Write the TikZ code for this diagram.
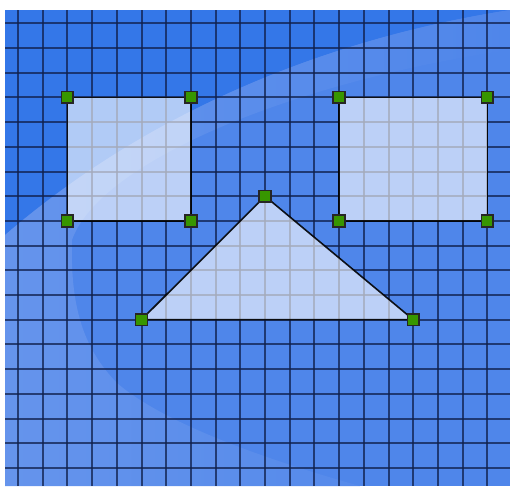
\documentclass[tikz,border=0pt]{standalone}
\definecolor{bgdark}{RGB}{52,119,232}
\definecolor{bgmid}{RGB}{79,134,234}
\definecolor{bglight}{RGB}{101,148,236}
\definecolor{gridc}{RGB}{16,32,76}
\definecolor{handlefill}{RGB}{55,150,0}
\tikzset{
  handle/.style={shape=rectangle, draw=black!85, line width=1.2pt, fill=handlefill, minimum size=8.8pt, inner sep=0pt},
  gridline/.style={draw=gridc, line width=1.5pt, opacity=0.75},
  shapefill/.style={fill=white, fill opacity=0.62, draw=black, draw opacity=0.9, line width=1.2pt, line join=round}
}
\begin{document}
\begin{tikzpicture}[x=0.75pt,y=-0.75pt]
\useasboundingbox (0,0) rectangle (510,486);
\fill[white] (0,0) rectangle (510,486);
% background
\fill[bgmid] (5,10) rectangle (510,486);
\fill[bgdark] (5,10) -- (510,10) .. controls (330,38) and (150,110) .. (5,235) -- cycle;
\shade[left color=bglight, right color=bgmid]
  (5,235) .. controls (150,110) and (330,38) .. (510,10) -- (510,50)
  .. controls (300,80) and (100,160) .. (72,240)
  .. controls (70,310) and (85,350) .. (117,383)
  .. controls (160,420) and (250,455) .. (360,486) -- (5,486) -- cycle;
% grid
\foreach \i in {0,...,19} \draw[gridline] ({18+24.7*\i},10) -- ({18+24.7*\i},486);
\foreach \j in {0,...,18} \draw[gridline] (5,{23.3+24.7*\j}) -- (510,{23.3+24.7*\j});
% corner coordinates
\coordinate (r1tl) at (67.4,97.4);
\coordinate (r1tr) at (190.9,97.4);
\coordinate (r1bl) at (67.4,220.9);
\coordinate (r1br) at (190.9,220.9);
\coordinate (r2tl) at (339.1,97.4);
\coordinate (r2tr) at (487.3,97.4);
\coordinate (r2bl) at (339.1,220.9);
\coordinate (r2br) at (487.3,220.9);
\coordinate (ttop) at (265,196.2);
\coordinate (tleft) at (141.5,319.6);
\coordinate (tright) at (413.2,319.6);
% shapes
\draw[shapefill] (r1tl) rectangle (r1br);
\draw[shapefill] (r2tl) rectangle (r2br);
\draw[shapefill] (ttop) -- (tright) -- (tleft) -- cycle;
% handles
\node[handle] (h1) at (r1tl) {};
\node[handle] (h2) at (r1tr) {};
\node[handle] (h3) at (r1bl) {};
\node[handle] (h4) at (r1br) {};
\node[handle] (h5) at (r2tl) {};
\node[handle] (h6) at (r2tr) {};
\node[handle] (h7) at (r2bl) {};
\node[handle] (h8) at (r2br) {};
\node[handle] (h9) at (ttop) {};
\node[handle] (h10) at (tleft) {};
\node[handle] (h11) at (tright) {};
\end{tikzpicture}
\end{document}
